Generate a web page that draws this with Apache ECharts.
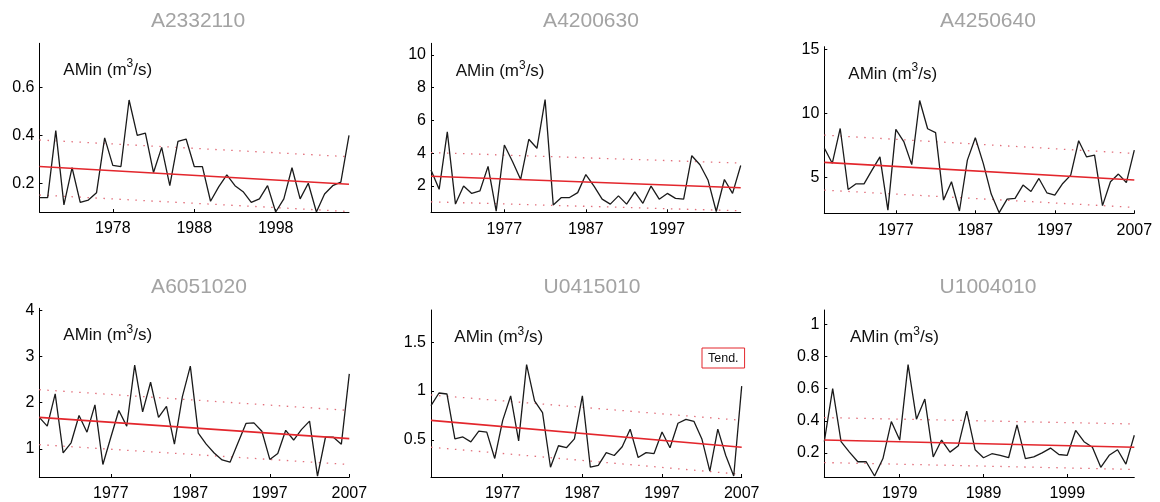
<!DOCTYPE html>
<html>
<head>
<meta charset="utf-8">
<script src="https://cdn.jsdelivr.net/npm/echarts@6/dist/echarts.min.js"></script>
<style>
html,body{margin:0;padding:0;background:#fff;}
#chart{width:1160px;height:502px;}
</style>
</head>
<body>
<div id="chart"></div>
<script>
// ---------- DATA ----------
const stationNames = ['A2332110','A4200630','A4250640','A6051020','U0415010','U1004010'];
const yearSpans = [[1969,2007],[1968,2006],[1968,2007],[1968,2007],[1968,2007],[1970,2007]];

const amin1 = [0.14,0.14,0.42,0.11,0.265,0.12,0.13,0.16,0.39,0.275,0.27,0.548,0.40,0.41,0.245,0.35,0.19,0.375,0.385,0.27,0.27,0.125,0.185,0.235,0.19,0.165,0.12,0.135,0.19,0.08,0.135,0.265,0.135,0.2,0.08,0.155,0.19,0.205,0.40];
const amin2 = [2.98,1.8,5.3,0.9,2.0,1.55,1.7,3.2,0.47,4.5,3.5,2.4,4.85,4.3,7.27,0.85,1.3,1.3,1.6,2.7,2.0,1.2,0.9,1.4,0.9,1.65,0.95,2.0,1.2,1.55,1.25,1.2,3.85,3.3,2.35,0.45,2.4,1.55,3.25];
const amin3 = [7.3,6.1,8.82,4.06,4.5,4.5,5.57,6.6,2.45,8.75,7.8,6.0,11.0,8.8,8.5,3.23,4.66,2.38,6.35,8.1,6.1,3.7,2.25,3.3,3.36,4.4,3.9,4.92,3.8,3.62,4.53,5.18,7.86,6.6,6.74,2.8,4.66,5.26,4.6,7.13];
const amin4 = [1.68,1.49,2.19,0.91,1.13,1.72,1.36,1.95,0.66,1.25,1.83,1.49,2.81,1.8,2.44,1.68,1.92,1.1,2.13,2.79,1.34,1.1,0.91,0.76,0.71,1.13,1.55,1.56,1.38,0.77,0.9,1.4,1.19,1.42,1.6,0.41,1.25,1.25,1.1,2.62];
const amin5 = [0.85,0.98,0.97,0.51,0.53,0.48,0.59,0.58,0.31,0.7,0.95,0.49,1.27,0.9,0.78,0.22,0.44,0.42,0.51,0.95,0.22,0.24,0.37,0.34,0.43,0.61,0.32,0.37,0.36,0.58,0.42,0.67,0.71,0.69,0.51,0.18,0.61,0.34,0.13,1.05];
const amin6 = [0.27,0.6,0.27,0.205,0.145,0.145,0.056,0.165,0.395,0.28,0.75,0.41,0.535,0.175,0.28,0.205,0.245,0.46,0.22,0.17,0.195,0.185,0.17,0.375,0.165,0.175,0.2,0.23,0.19,0.185,0.34,0.27,0.235,0.11,0.185,0.22,0.13,0.31];
const aminSeries = [amin1, amin2, amin3, amin4, amin5, amin6];

// trend line and confidence band end values [first year, last year]
const trendEnds = [[0.27,0.196],[2.6,1.9],[6.17,4.8],[1.68,1.22],[0.70,0.425],[0.28,0.235]];
const upperEnds = [[0.381,0.311],[4.04,3.4],[8.3,6.87],[2.28,1.83],[0.96,0.70],[0.42,0.38]];
const lowerEnds = [[0.151,0.082],[1.04,0.49],[4.01,2.66],[1.09,0.66],[0.425,0.147],[0.14,0.097]];

// axes
const yRanges = [[0.08,0.785],[0.4,10.7],[2.2,15.2],[0.39,4.04],[0.12,1.83],[0.05,1.09]];
const yTickValues = [[0.2,0.4,0.6],[2,4,6,8,10],[5,10,15],[1,2,3,4],[0.5,1,1.5],[0.2,0.4,0.6,0.8,1]];
const xTickValues = [[1978,1988,1998],[1977,1987,1997],[1977,1987,1997,2007],[1977,1987,1997,2007],[1977,1987,1997,2007],[1979,1989,1999]];

// ---------- LAYOUT ----------
const grids = [
  {left:39.5, top:43.3, width:309.5, height:168.7},
  {left:431, top:43.3, width:309.7, height:169},
  {left:824.3, top:46.7, width:310, height:166.6},
  {left:39.3, top:308.3, width:310, height:169.4},
  {left:431, top:310, width:310.7, height:168.3},
  {left:824.3, top:310, width:310, height:168.3}
];
const titlePos = [[198,10.5],[591,10.5],[988,10.5],[199,277],[592,277],[988,277]];
const labelPos = [[63.3,58],[455.7,59.4],[848.3,62],[63.3,323.7],[454.3,325.4],[850,325.4]];

const FONT = "'Liberation Sans', Arial, Helvetica, sans-serif";

function range(a, b) { const r = []; for (let y = a; y <= b; y++) r.push(y); return r; }

const option = {
  animation: false,
  backgroundColor: '#fff',
  textStyle: {fontFamily: FONT},
  title: [],
  legend: {
    data: ['Tend.'],
    left: 702, top: 348,
    orient: 'horizontal',
    itemWidth: 0, itemHeight: 0,
    itemGap: 0,
    padding: [4, 6, 3, 0],
    borderColor: '#e3262c', borderWidth: 1,
    backgroundColor: '#fff',
    selectedMode: false,
    textStyle: {color: '#111', fontSize: 12.5, fontFamily: FONT}
  },
  grid: [], xAxis: [], yAxis: [], series: []
};

for (let i = 0; i < 6; i++) {
  const yrs = range(yearSpans[i][0], yearSpans[i][1]);
  const first = yrs[0], last = yrs[yrs.length - 1];
  option.title.push({
    text: stationNames[i],
    left: titlePos[i][0], top: titlePos[i][1],
    textAlign: 'center', padding: 0,
    textStyle: {color: '#a3a3a3', fontSize: 21, fontWeight: 'normal', fontFamily: FONT}
  });
  option.title.push({
    text: '{a|AMin (m}{s|3}{a|/s)}',
    left: labelPos[i][0], top: labelPos[i][1], padding: 0,
    textStyle: {
      fontFamily: FONT, fontWeight: 'normal',
      rich: {
        a: {fontSize: 17, lineHeight: 24, color: '#111', fontWeight: 'normal', fontFamily: FONT},
        s: {fontSize: 12, lineHeight: 12, verticalAlign: 'top', color: '#111', fontWeight: 'normal', fontFamily: FONT}
      }
    }
  });
  option.grid.push(Object.assign({containLabel: false}, grids[i]));
  option.xAxis.push({
    type: 'value', gridIndex: i, min: first, max: last,
    axisLine: {show: true, lineStyle: {color: '#000', width: 1}},
    axisTick: {show: true, inside: true, length: 3, customValues: xTickValues[i], lineStyle: {color: '#000'}},
    axisLabel: {customValues: xTickValues[i], formatter: v => String(v), color: '#000', fontSize: 16, margin: 9, fontFamily: FONT},
    splitLine: {show: false}
  });
  option.yAxis.push({
    type: 'value', gridIndex: i, min: yRanges[i][0], max: yRanges[i][1],
    axisLine: {show: true, lineStyle: {color: '#000', width: 1}},
    axisTick: {show: true, inside: true, length: 3, customValues: yTickValues[i], lineStyle: {color: '#000'}},
    axisLabel: {customValues: yTickValues[i], color: '#000', fontSize: 16, margin: 5, fontFamily: FONT},
    splitLine: {show: false}
  });
  option.series.push({
    type: 'line', name: 'AMin', xAxisIndex: i, yAxisIndex: i,
    data: yrs.map((y, k) => [y, aminSeries[i][k]]),
    symbol: 'none', lineStyle: {color: '#1a1a1a', width: 1.3}, z: 3
  });
  option.series.push({
    type: 'line', name: 'Tend.', xAxisIndex: i, yAxisIndex: i,
    data: [[first, trendEnds[i][0]], [last, trendEnds[i][1]]],
    symbol: 'none', itemStyle: {color: '#e3262c'}, lineStyle: {color: '#e3262c', width: 1.6}, z: 4
  });
  option.series.push({
    type: 'line', name: 'upper', xAxisIndex: i, yAxisIndex: i,
    data: [[first, upperEnds[i][0]], [last, upperEnds[i][1]]],
    symbol: 'none', lineStyle: {color: '#e2707c', width: 1.3, type: [1.5, 6.5]}, z: 2
  });
  option.series.push({
    type: 'line', name: 'lower', xAxisIndex: i, yAxisIndex: i,
    data: [[first, lowerEnds[i][0]], [last, lowerEnds[i][1]]],
    symbol: 'none', lineStyle: {color: '#e2707c', width: 1.3, type: [1.5, 6.5]}, z: 2
  });
}

const chart = echarts.init(document.getElementById('chart'), null, {renderer: 'canvas'});
chart.setOption(option);
</script>
</body>
</html>
